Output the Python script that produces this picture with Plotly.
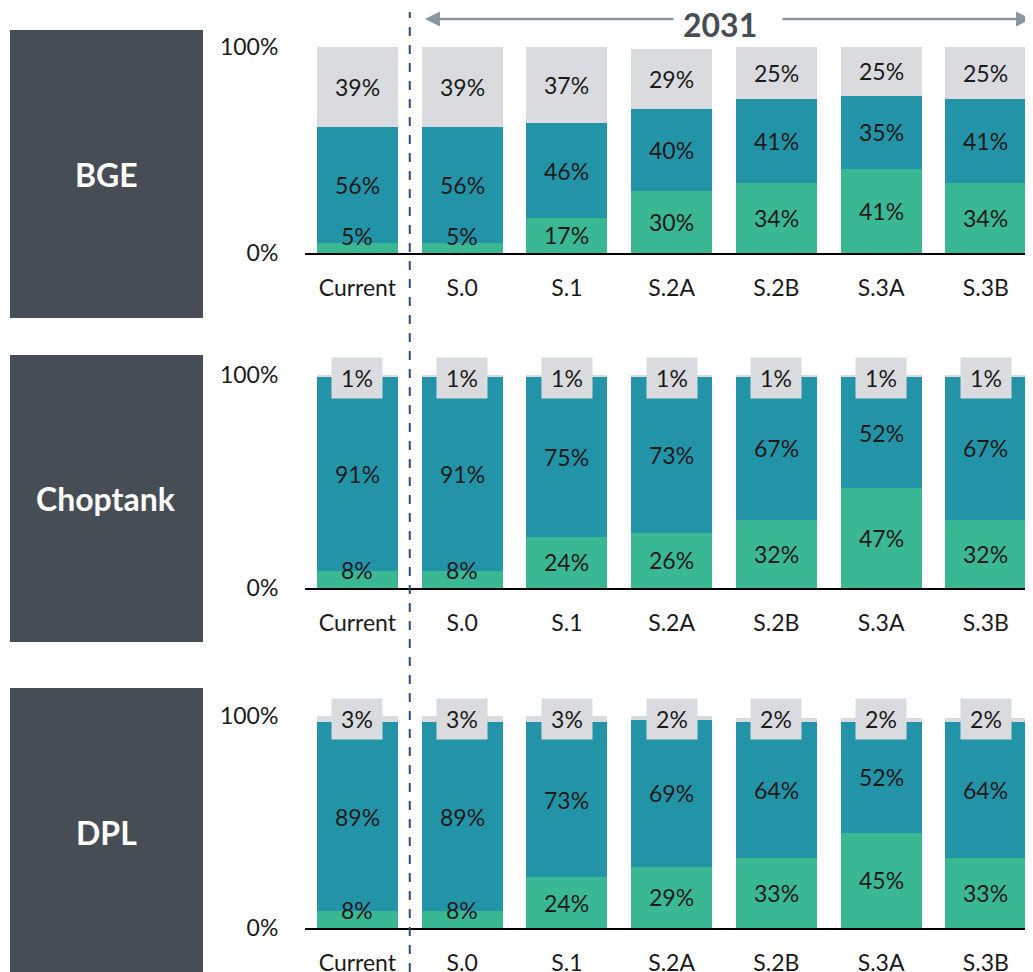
import plotly.graph_objects as go

categories = ["Current", "S.0", "S.1", "S.2A", "S.2B", "S.3A", "S.3B"]
panels = ["BGE", "Choptank", "DPL"]

bge_green = [5, 5, 17, 30, 34, 41, 34]
bge_teal = [56, 56, 46, 40, 41, 35, 41]
bge_gray = [39, 39, 37, 29, 25, 25, 25]

chop_green = [8, 8, 24, 26, 32, 47, 32]
chop_teal = [91, 91, 75, 73, 67, 52, 67]
chop_gray = [1, 1, 1, 1, 1, 1, 1]

dpl_green = [8, 8, 24, 29, 33, 45, 33]
dpl_teal = [89, 89, 73, 69, 64, 52, 64]
dpl_gray = [3, 3, 3, 2, 2, 2, 2]

year_label = "2031"

GREEN = "#3AB893"
TEAL = "#2394A8"
GRAY = "#D9DBDE"
DARK = "#474D54"
FONT = "Lato"

# page has an 8px body margin, so the figure sits at (8, 8) in the window
OFF = 8
W, H = 1033 - OFF, 972 - OFF


def px(x):
    return (x - OFF) / W


def py(y):
    return 1 - (y - OFF) / H


# window pixel positions of each panel (top = 100%, bottom = 0%) and left label box
panel_px = [(47, 253), (375, 588), (716, 928)]
box_px = [(30, 318), (355, 642), (688, 972)]

data = [
    (bge_green, bge_teal, bge_gray),
    (chop_green, chop_teal, chop_gray),
    (dpl_green, dpl_teal, dpl_gray),
]

fig = go.Figure()
annotations = []
shapes = []
lbl_font = dict(size=23, color="#1a1a1a", family=FONT)

for i, (green, teal, gray) in enumerate(data):
    n = "" if i == 0 else str(i + 1)
    xa, ya = "x" + n, "y" + n
    for vals, col in [(green, GREEN), (teal, TEAL), (gray, GRAY)]:
        fig.add_trace(go.Bar(x=categories, y=vals, marker_color=col,
                             marker_line_width=0, xaxis=xa, yaxis=ya,
                             showlegend=False, hoverinfo="skip"))
    # labels
    for j, c in enumerate(categories):
        g, t, r = green[j], teal[j], gray[j]
        annotations.append(dict(x=c, y=max(g / 2, 8.3), xref=xa, yref=ya,
                                text=f"{g}%", showarrow=False, font=lbl_font))
        annotations.append(dict(x=c, y=g + t / 2, xref=xa, yref=ya,
                                text=f"{t}%", showarrow=False, font=lbl_font))
        small = r < 10
        annotations.append(dict(x=c, y=(98.8 if small else g + t + r / 2),
                                xref=xa, yref=ya, text=f"{r}%", showarrow=False,
                                bgcolor=GRAY if small else None, borderpad=6,
                                width=38 if small else None, font=lbl_font))

    top, bot = panel_px[i]
    fig.layout["xaxis" + n] = dict(
        domain=[px(305), 1], range=[-0.5, 6.45], anchor=ya, automargin=False,
        showline=True, linecolor="black", linewidth=2,
        ticks="outside", ticklen=13, tickcolor="rgba(0,0,0,0)",
        tickfont=lbl_font, showgrid=False, zeroline=False, fixedrange=True)
    fig.layout["yaxis" + n] = dict(
        domain=[py(bot), py(top)], range=[0, 100], anchor=xa, automargin=False,
        tickvals=[0, 100], ticktext=["0%", "100%"],
        ticks="outside", ticklen=21, tickcolor="rgba(0,0,0,0)",
        tickfont=lbl_font, showgrid=False, zeroline=False, showline=False,
        fixedrange=True)

    # left dark box with panel name
    bt, bb = box_px[i]
    shapes.append(dict(type="rect", xref="paper", yref="paper",
                       x0=px(10), x1=px(203), y0=py(bb), y1=py(bt),
                       fillcolor=DARK, line_width=0, layer="below"))
    cy = [174, 498, 832][i]
    annotations.append(dict(x=px(106), y=py(cy), xref="paper", yref="paper",
                            xanchor="center", yanchor="middle",
                            text=f"<b>{panels[i]}</b>", showarrow=False,
                            font=dict(size=32, color="white", family=FONT)))

# dashed divider between Current and the 2031 scenarios
shapes.append(dict(type="line", xref="x", yref="paper", x0=0.5, x1=0.5,
                   y0=0, y1=py(12), line=dict(color="#2F4B7C", width=2, dash="dash")))

# 2031 header with arrows
annotations.append(dict(x=px(720), y=py(24), xref="paper", yref="paper",
                        xanchor="center", yanchor="middle",
                        text=f"<b>{year_label}</b>", showarrow=False,
                        font=dict(size=32, color=DARK, family=FONT)))
annotations.append(dict(x=px(425), y=py(19), xref="paper", yref="paper", text="",
                        showarrow=True, axref="pixel", ayref="pixel", ax=250, ay=0,
                        arrowhead=2, arrowsize=1.2, arrowwidth=2.5, arrowcolor="#8A959E"))
annotations.append(dict(x=px(1031), y=py(19), xref="paper", yref="paper", text="",
                        showarrow=True, axref="pixel", ayref="pixel", ax=-250, ay=0,
                        arrowhead=2, arrowsize=1.2, arrowwidth=2.5, arrowcolor="#8A959E"))

fig.update_layout(
    width=W, height=H, margin=dict(l=0, r=0, t=0, b=0, autoexpand=False),
    barmode="stack", bargap=0.226,
    plot_bgcolor="white", paper_bgcolor="white",
    annotations=annotations, shapes=shapes,
    font=dict(family=FONT),
)

fig.write_html("out.html")
